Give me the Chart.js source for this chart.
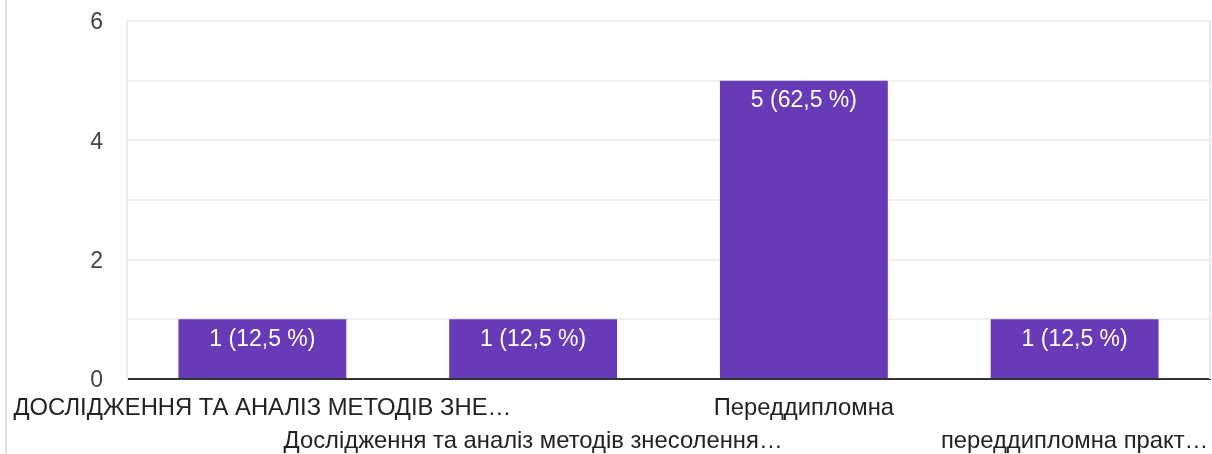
<!DOCTYPE html>
<html>
<head>
<meta charset="utf-8">
<script src="https://cdn.jsdelivr.net/npm/chart.js@4"></script>
<style>
  html, body { margin: 0; padding: 0; background: #fff; }
  #wrap { position: relative; width: 1212px; height: 454px; }
  #edge { position: absolute; left: 5px; top: 0; width: 2px; height: 454px; background: #dfdfe6; }
</style>
</head>
<body>
<div id="wrap">
  <div id="edge"></div>
  <canvas id="chart" width="1212" height="454"></canvas>
</div>
<script>
// Labels are shown on two staggered rows, as in the form summary
const categories = [
    ['ДОСЛІДЖЕННЯ ТА АНАЛІЗ МЕТОДІВ ЗНЕ…', ''],
    ['', 'Дослідження та аналіз методів знесолення…'],
    ['Переддипломна', ''],
    ['', 'переддипломна практ…']
];
const responses = [1, 1, 5, 1];
const yTicksShown = [0, 2, 4, 6];

const FONT = "Arial, 'Liberation Sans', sans-serif";
const total = responses.reduce((a, b) => a + b, 0);

function percentLabel(v) {
    const pct = (v / total * 100).toFixed(1).replace('.', ',');
    return v + ' (' + pct + ' %)';
}

// value labels inside the top of each bar + right border of plot area
const barLabels = {
    id: 'barLabels',
    afterDatasetsDraw(chart) {
        const ctx = chart.ctx;
        const meta = chart.getDatasetMeta(0);
        ctx.save();
        ctx.font = '23px ' + FONT;
        ctx.fillStyle = '#ffffff';
        ctx.textAlign = 'center';
        ctx.textBaseline = 'middle';
        meta.data.forEach((bar, i) => {
            ctx.fillText(percentLabel(responses[i]), bar.x, bar.y + 20);
        });
        const a = chart.chartArea;
        ctx.strokeStyle = '#ececec';
        ctx.lineWidth = 2;
        ctx.beginPath();
        ctx.moveTo(a.right, a.top);
        ctx.lineTo(a.right, a.bottom);
        ctx.stroke();
        ctx.restore();
    }
};

new Chart(document.getElementById('chart'), {
    type: 'bar',
    data: {
        labels: categories,
        datasets: [{
            data: responses,
            backgroundColor: '#673ab7',
            barPercentage: 0.62,
            categoryPercentage: 1.0
        }]
    },
    options: {
        responsive: false,
        animation: false,
        layout: { padding: { top: 21, right: 2, left: 0, bottom: 0 } },
        plugins: {
            legend: { display: false },
            tooltip: { enabled: false }
        },
        scales: {
            x: {
                grid: { display: false, drawTicks: false },
                border: { color: '#333333', width: 2 },
                ticks: {
                    autoSkip: false,
                    maxRotation: 0,
                    minRotation: 0,
                    padding: 13,
                    color: '#222222',
                    font: { family: FONT, size: 23.8, lineHeight: '33px' }
                },
                afterFit(scale) {
                    scale.height = 75;
                    scale.paddingLeft = 0;
                    scale.paddingRight = 0;
                }
            },
            y: {
                min: 0,
                max: 6,
                grid: { color: '#efefef', lineWidth: 2, drawTicks: false },
                border: { color: '#ececec', width: 2 },
                ticks: {
                    stepSize: 1,
                    padding: 24,
                    labelOffset: 2,
                    color: '#444444',
                    font: { family: FONT, size: 23 },
                    callback: v => yTicksShown.includes(v) ? v : ''
                },
                afterFit(scale) {
                    scale.width = 127;
                    scale.paddingTop = 0;
                    scale.paddingBottom = 0;
                }
            }
        }
    },
    plugins: [barLabels]
});
</script>
</body>
</html>
